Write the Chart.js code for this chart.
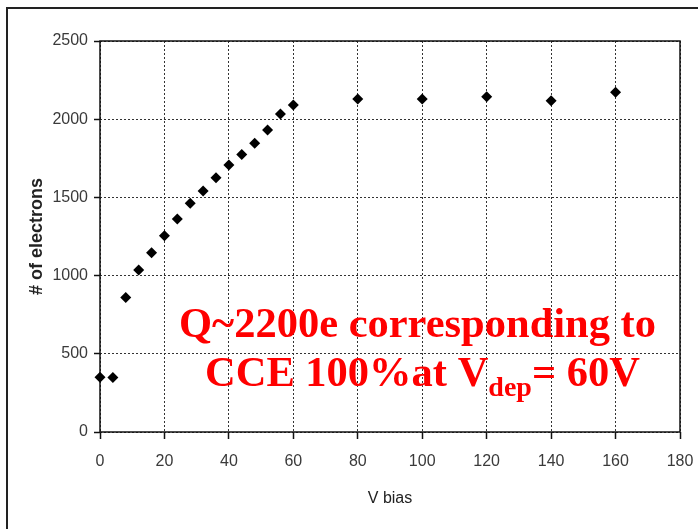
<!DOCTYPE html>
<html>
<head>
<meta charset="utf-8">
<script src="https://cdn.jsdelivr.net/npm/chart.js@4/dist/chart.umd.min.js"></script>
<style>
  html, body { margin: 0; padding: 0; background: #fff; }
  #wrap { position: relative; width: 698px; height: 529px; }
</style>
</head>
<body>
<div id="wrap"><canvas id="myChart" width="698" height="529"></canvas></div>
<script>
// bias voltage (V) and collected charge (# of electrons)
var vBias = [0, 4, 8, 12, 16, 20, 24, 28, 32, 36, 40, 44, 48, 52, 56, 60, 80, 100, 120, 140, 160];
var electrons = [350, 348, 860, 1036, 1146, 1255, 1362, 1462, 1541, 1626, 1707, 1775, 1846, 1931, 2033, 2091, 2129, 2129, 2144, 2118, 2172];

var xTicks = [0, 20, 40, 60, 80, 100, 120, 140, 160, 180];
var yTicks = [0, 500, 1000, 1500, 2000, 2500];

var points = vBias.map(function (v, i) {
    return { x: v, y: electrons[i] };
});

var tickFont = { family: '"Liberation Sans", Arial, sans-serif', size: 16 };

// frame around the picture and the plot box
var framePlugin = {
    id: 'frame',
    beforeDraw: function (chart) {
        var c = chart.ctx;
        c.save();
        c.strokeStyle = '#222';
        c.lineWidth = 2;
        c.beginPath();
        c.moveTo(7, 529);
        c.lineTo(7, 8);
        c.lineTo(698, 8);
        c.stroke();
        c.restore();
    },
    beforeDatasetsDraw: function (chart) {
        var a = chart.chartArea;
        var c = chart.ctx;
        c.save();
        c.strokeStyle = '#111';
        c.lineWidth = 1.5;
        c.strokeRect(a.left, a.top, a.right - a.left, a.bottom - a.top);
        c.restore();
    }
};

// red annotation text
var notePlugin = {
    id: 'note',
    afterDraw: function (chart) {
        var c = chart.ctx;
        var big = 'bold 42.5px "Liberation Serif", "Times New Roman", serif';
        var small = 'bold 28px "Liberation Serif", "Times New Roman", serif';
        c.save();
        c.fillStyle = '#ff0000';
        c.textBaseline = 'alphabetic';
        c.textAlign = 'left';
        c.font = big;
        c.fillText('Q~2200e corresponding to', 179, 337);
        var x = 205;
        c.fillText('CCE 100%at V', x, 386);
        x += c.measureText('CCE 100%at V').width;
        c.font = small;
        c.fillText('dep', x, 396);
        x += c.measureText('dep').width;
        c.font = big;
        c.fillText('= 60V', x, 386);
        c.restore();
    }
};

var ctx = document.getElementById('myChart').getContext('2d');
var myChart = new Chart(ctx, {
    type: 'scatter',
    data: {
        datasets: [{
            data: points,
            label: '# of electrons',
            pointStyle: 'rectRot',
            pointRadius: 5.5,
            backgroundColor: '#000',
            borderColor: '#000',
            borderWidth: 0,
            clip: false
        }]
    },
    options: {
        responsive: false,
        devicePixelRatio: 1,
        animation: false,
        layout: { padding: { top: 41, right: 18, bottom: 0, left: 0 } },
        plugins: {
            legend: { display: false },
            tooltip: { enabled: false }
        },
        scales: {
            x: {
                type: 'linear',
                min: 0,
                max: 180,
                afterFit: function (s) {
                    s.height = 97;
                    s.paddingRight = 0;
                    s.paddingLeft = 0;
                },
                afterBuildTicks: function (s) { s.ticks = xTicks.map(function (v) { return { value: v }; }); },
                grid: { color: '#333', lineWidth: 1, tickLength: 7, tickColor: '#111', tickWidth: 1.5 },
                border: { display: false, dash: [2, 2] },
                ticks: { font: tickFont, color: '#3a3a3a', padding: 13, maxRotation: 0,
                    callback: function (v) { return String(v); } },
                title: {
                    display: true,
                    text: 'V bias',
                    color: '#222',
                    font: { family: '"Liberation Sans", Arial, sans-serif', size: 16 },
                    padding: { top: 0, bottom: 21 }
                }
            },
            y: {
                min: 0,
                max: 2500,
                afterFit: function (s) { s.width = 100; },
                afterBuildTicks: function (s) { s.ticks = yTicks.map(function (v) { return { value: v }; }); },
                grid: { color: '#333', lineWidth: 1, tickLength: 6, tickColor: '#111', tickWidth: 1.5 },
                border: { display: false, dash: [2, 2] },
                ticks: { font: tickFont, color: '#3a3a3a', padding: 6,
                    callback: function (v) { return String(v); } },
                title: {
                    display: true,
                    text: '# of electrons',
                    color: '#222',
                    font: { family: '"Liberation Sans", Arial, sans-serif', size: 18, weight: 'bold' },
                    padding: { top: 26, bottom: 0 }
                }
            }
        }
    },
    plugins: [framePlugin, notePlugin]
});
</script>
</body>
</html>
